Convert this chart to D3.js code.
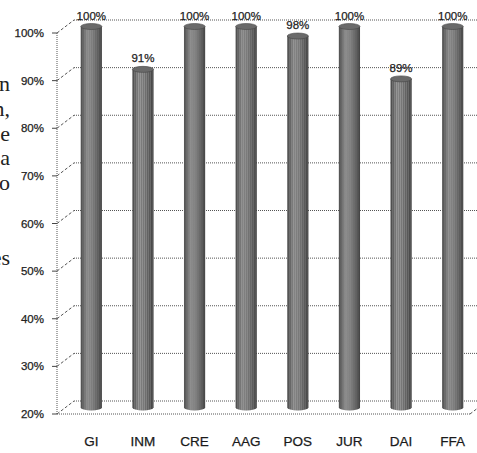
<!DOCTYPE html>
<html>
<head>
<meta charset="utf-8">
<script src="https://cdn.jsdelivr.net/npm/d3@7"></script>
<style>
  body { margin: 0; background: #fff; }
  svg { display: block; }
  text { paint-order: stroke; }
</style>
</head>
<body>
<svg id="chart" width="477" height="453"></svg>
<script>
// data
var categories = ['GI', 'INM', 'CRE', 'AAG', 'POS', 'JUR', 'DAI', 'FFA'];
var values = [100, 91, 100, 100, 98, 100, 89, 100];
var yTicks = [20, 30, 40, 50, 60, 70, 80, 90, 100];
// bits of the page text cut off at the left margin
var marginText = ['n', 'n,', 'e', 'a', 'o', '', '', 'es'];

var svg = d3.select('#chart');
var W = 477, H = 453;
var depthX = 17, depthY = -13;   // 3d wall offset

var y = d3.scaleLinear().domain([20, 100]).range([414, 33]);
var x = d3.scaleBand().domain(categories).range([57, 470]).padding(0);

var defs = svg.append('defs');

// gradient for the cylinders
var grad = defs.append('linearGradient').attr('id', 'cyl')
    .attr('x1', '0%').attr('x2', '100%').attr('y1', '0%').attr('y2', '0%');
[[0, '#4e4e4e'], [0.3, '#929292'], [0.55, '#858585'], [0.85, '#5e5e5e'], [1, '#404040']]
    .forEach(function(s) { grad.append('stop').attr('offset', s[0]).attr('stop-color', s[1]); });

// halftone look of the scan
var pat = defs.append('pattern').attr('id', 'dots')
    .attr('width', 2).attr('height', 2).attr('patternUnits', 'userSpaceOnUse');
pat.append('rect').attr('width', 1).attr('height', 1).attr('fill', '#000').attr('opacity', 0.25);
pat.append('rect').attr('x', 1).attr('y', 1).attr('width', 1).attr('height', 1).attr('fill', '#fff').attr('opacity', 0.15);

var grid = svg.append('g').attr('id', 'grid');

// back wall lines
grid.selectAll('.back')
    .data(yTicks)
    .enter().append('line')
    .attr('x1', 57 + depthX).attr('x2', W + 10)
    .attr('y1', function(d) { return y(d) + depthY; })
    .attr('y2', function(d) { return y(d) + depthY; })
    .attr('stroke', '#555').attr('stroke-width', 1)
    .attr('stroke-dasharray', '1,1');

// side wall diagonals
grid.selectAll('.diag')
    .data(yTicks)
    .enter().append('line')
    .attr('x1', 57).attr('x2', 57 + depthX)
    .attr('y1', function(d) { return y(d); })
    .attr('y2', function(d) { return y(d) + depthY; })
    .attr('stroke', '#555').attr('stroke-width', 1)
    .attr('stroke-dasharray', '3,2');

// front axis, ticks and floor edge
grid.append('line')
    .attr('x1', 57).attr('x2', 57).attr('y1', y(100)).attr('y2', y(20))
    .attr('stroke', '#555').attr('stroke-dasharray', '1,1');
grid.selectAll('.tick')
    .data(yTicks)
    .enter().append('line')
    .attr('x1', 52).attr('x2', 57)
    .attr('y1', function(d) { return y(d); })
    .attr('y2', function(d) { return y(d); })
    .attr('stroke', '#444');
grid.append('line')
    .attr('x1', 57).attr('x2', 470).attr('y1', y(20)).attr('y2', y(20))
    .attr('stroke', '#555').attr('stroke-dasharray', '1,1');
grid.append('line')
    .attr('x1', 470).attr('x2', 470 + depthX).attr('y1', y(20)).attr('y2', y(20) + depthY)
    .attr('stroke', '#555').attr('stroke-dasharray', '3,2');

var sans = 'Liberation Sans, Arial, sans-serif';

// y tick labels
svg.selectAll('.ylab')
    .data(yTicks)
    .enter().append('text')
    .attr('x', 44)
    .attr('y', function(d) { return y(d); })
    .attr('dy', '0.35em')
    .attr('text-anchor', 'end')
    .style('font-family', sans)
    .style('font-size', '11.5px')
    .attr('fill', '#222').attr('stroke', '#222').attr('stroke-width', 0.25)
    .text(function(d) { return d + '%'; });

// cylinders, set at half depth
var barW = x.step() * 0.41;
var ry = 3;
var bars = svg.selectAll('.bar')
    .data(categories)
    .enter().append('g')
    .attr('transform', function(d) {
        return 'translate(' + (x(d) + x.bandwidth() / 2 + depthX / 2) + ',' + (depthY / 2) + ')';
    });

function bodyPath(d, i) {
    var t = y(values[i]), b = y(20), r = barW / 2;
    return 'M' + (-r) + ',' + t + 'L' + (-r) + ',' + b +
        'A' + r + ',' + ry + ' 0 0,0 ' + r + ',' + b +
        'L' + r + ',' + t + 'Z';
}

bars.append('path').attr('d', bodyPath).attr('fill', 'url(#cyl)');
bars.append('path').attr('d', bodyPath).attr('fill', 'url(#dots)');

bars.append('ellipse')
    .attr('cx', 0)
    .attr('cy', function(d, i) { return y(values[i]); })
    .attr('rx', barW / 2).attr('ry', ry)
    .attr('fill', '#6a6a6a').attr('stroke', '#444').attr('stroke-width', 0.6);

// value labels
bars.append('text')
    .attr('x', 0)
    .attr('y', function(d, i) { return y(values[i]) - 7; })
    .attr('text-anchor', 'middle')
    .style('font-family', sans)
    .style('font-size', '11.5px')
    .attr('fill', '#222').attr('stroke', '#222').attr('stroke-width', 0.25)
    .text(function(d, i) { return values[i] + '%'; });

// category labels
svg.selectAll('.xlab')
    .data(categories)
    .enter().append('text')
    .attr('x', function(d) { return x(d) + x.bandwidth() / 2 + depthX / 2; })
    .attr('y', 446)
    .attr('text-anchor', 'middle')
    .style('font-family', sans)
    .style('font-size', '13.5px')
    .attr('fill', '#1a1a1a').attr('stroke', '#1a1a1a').attr('stroke-width', 0.25)
    .text(function(d) { return d; });

// page text bleeding in from the left
svg.selectAll('.margin')
    .data(marginText)
    .enter().append('text')
    .attr('x', 10)
    .attr('y', function(d, i) { return 91 + i * 24.8; })
    .attr('text-anchor', 'end')
    .style('font-family', 'Liberation Serif, Times New Roman, serif')
    .style('font-size', '22px')
    .attr('fill', '#222')
    .text(function(d) { return d; });
</script>
</body>
</html>
